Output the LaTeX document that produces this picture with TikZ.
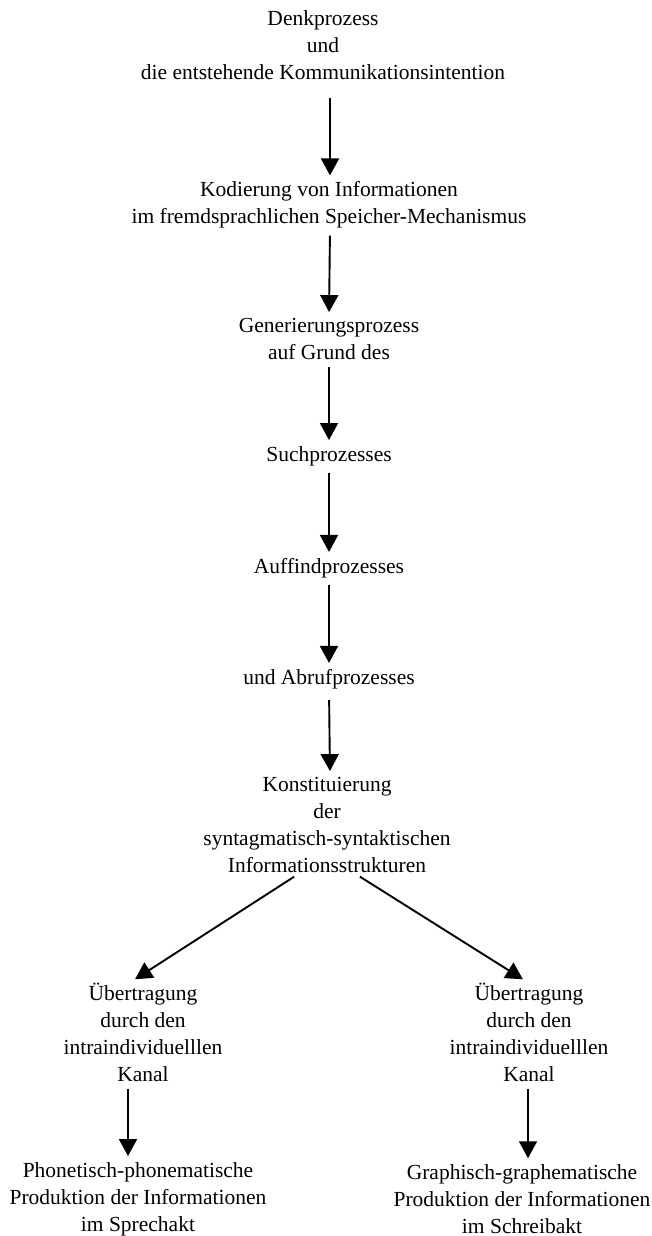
\documentclass[tikz,border=0pt]{standalone}
\usepackage{fontspec}
\setmainfont{Liberation Serif}
\usetikzlibrary{arrows.meta}
\begin{document}
\begin{tikzpicture}[>={Triangle[width=18pt,length=17pt]},x=1pt,y=-1pt]
	\tikzset{txt/.style={align=center,inner sep=0pt,font=\fontsize{21.5}{27}\selectfont},
		pfeil/.style={->,line width=1.9pt,shorten <=7pt,shorten >=6pt}}
	\useasboundingbox (0,0) rectangle (651,1236);
	\node[txt] (denk) at (323,45) {Denkprozess\\und\\die entstehende Kommunikationsintention};
	\node[txt] (kodierung) at (329,205) {Kodierung von Informationen\\im fremdsprachlichen Speicher-Mechanismus};
	\node[txt] (generierung) at (329,339) {Generierungsprozess\\auf Grund des};
	\node[txt] (such) at (329,456) {Suchprozesses};
	\node[txt] (auffind) at (329,568) {Auffindprozesses};
	\node[txt] (abruf) at (329,679) {und Abrufprozesses};
	\node[txt] (konst) at (327,825) {Konstituierung\\der\\syntagmatisch-syntaktischen\\Informationsstrukturen};
	\node[txt] (uebl) at (143,1032) {Übertragung\\durch den\\intraindividuelllen\\Kanal};
	\node[txt] (uebr) at (529,1032) {Übertragung\\durch den\\intraindividuelllen\\Kanal};
	\node[txt] (phon) at (138,1199) {Phonetisch-phonematische\\Produktion der Informationen\\im Sprechakt};
	\node[txt] (graph) at (522,1199) {Graphisch-graphematische\\Produktion der Informationen\\im Schreibakt};
	\draw[pfeil,shorten <=18pt] ([xshift=7pt]denk.south) -- ([xshift=1pt]kodierung.north);
	\draw[pfeil] ([xshift=1pt]kodierung.south) -- (generierung.north);
	\draw[pfeil] (generierung.south) -- (such.north);
	\draw[pfeil] (such.south) -- (auffind.north);
	\draw[pfeil] (auffind.south) -- (abruf.north);
	\draw[pfeil,shorten <=11pt] (abruf.south) -- ([xshift=3pt]konst.north);
	\draw[pfeil] ([xshift=-27pt]konst.south) -- ([xshift=-13pt]uebl.north);
	\draw[pfeil] ([xshift=27pt]konst.south) -- ([xshift=-1pt]uebr.north);
	\draw[pfeil] ([xshift=-15pt]uebl.south) -- ([xshift=-10pt]phon.north);
	\draw[pfeil] ([xshift=-1pt]uebr.south) -- ([xshift=6pt]graph.north);
\end{tikzpicture}
\end{document}
